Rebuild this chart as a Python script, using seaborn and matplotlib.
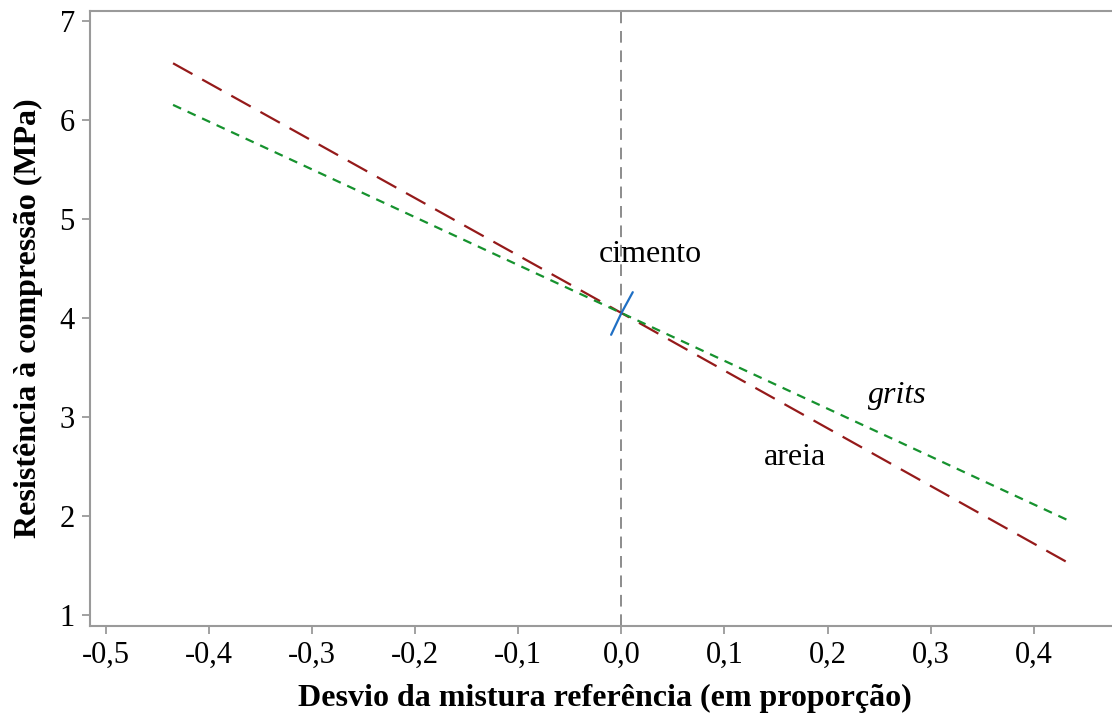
import pandas as pd
import matplotlib.pyplot as plt
import seaborn as sns

# Traços de resposta (desvio da mistura referência x resistência)
desvio = [-0.435, 0.0, 0.435]
areia = [6.57, 4.05, 1.52]
grits = [6.15, 4.05, 1.95]
desvio_cimento = [-0.010, 0.0, 0.011]
cimento = [3.83, 4.05, 4.26]

xticks = [-0.5, -0.4, -0.3, -0.2, -0.1, 0.0, 0.1, 0.2, 0.3, 0.4]
yticks = [1, 2, 3, 4, 5, 6, 7]

df_areia = pd.DataFrame({'desvio': desvio, 'resistencia': areia})
df_grits = pd.DataFrame({'desvio': desvio, 'resistencia': grits})
df_cimento = pd.DataFrame({'desvio': desvio_cimento, 'resistencia': cimento})

sns.set_style('white')
plt.rcParams['font.family'] = ['Liberation Serif', 'DejaVu Serif']
plt.rcParams['text.color'] = 'black'
plt.rcParams['axes.labelcolor'] = 'black'
plt.rcParams['xtick.color'] = 'black'
plt.rcParams['ytick.color'] = 'black'

fig = plt.figure(figsize=(11.12, 7.17), dpi=100)
# a borda direita fica fora da figura, como no original
ax = fig.add_axes([0.081, 0.127, 0.926, 0.858])

ax.axvline(0, color='#8c8c8c', lw=1.4, linestyle=(0, (6, 4)), zorder=1)

sns.lineplot(data=df_areia, x='desvio', y='resistencia', ax=ax, color='#951a1a',
             lw=1.6, linestyle=(0, (10, 5)))
sns.lineplot(data=df_grits, x='desvio', y='resistencia', ax=ax, color='#16922e',
             lw=1.6, linestyle=(0, (4, 3.2)))
sns.lineplot(data=df_cimento, x='desvio', y='resistencia', ax=ax, color='#1f6fc4',
             lw=1.6)

ax.text(0.028, 4.64, 'cimento', fontsize=23, ha='center', va='center')
ax.text(0.268, 3.22, 'grits', fontsize=23, ha='center', va='center', style='italic')
ax.text(0.168, 2.59, 'areia', fontsize=23, ha='center', va='center')

ax.set_xlim(-0.5155, 0.4835)
ax.set_ylim(0.892, 7.10)
ax.set_xticks(xticks)
ax.set_xticklabels([f'{v:.1f}'.replace('.', ',') for v in xticks])
ax.set_yticks(yticks)
ax.set_yticklabels([str(v) for v in yticks])
ax.tick_params(axis='both', which='major', bottom=True, left=True, direction='out',
               length=6, width=1.3, color='#9a9a9a', labelcolor='black',
               labelsize=22, pad=5)

for side in ['left', 'bottom', 'top', 'right']:
    ax.spines[side].set_color('#9a9a9a')
    ax.spines[side].set_linewidth(1.5)

ax.set_xlabel('Desvio da mistura referência (em proporção)', fontsize=23,
              fontweight='bold', labelpad=10)
ax.set_ylabel('Resistência à compressão (MPa)', fontsize=23, fontweight='bold',
              labelpad=12)

plt.savefig('out.png', dpi=100)
